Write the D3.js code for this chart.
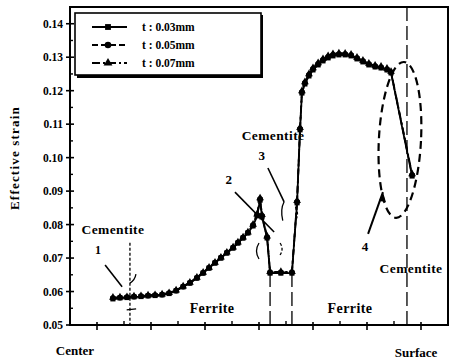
<!DOCTYPE html>
<html>
<head>
<meta charset="utf-8">
<script src="https://cdn.jsdelivr.net/npm/d3@7/dist/d3.min.js"></script>
<style>
  body { margin: 0; background: #fff; }
  text { font-family: "Liberation Serif", "DejaVu Serif", serif; font-weight: bold; fill: #000; }
</style>
</head>
<body>
<div id="chart"></div>
<script>
// position along the section (centre -> surface), arbitrary units
var position = [1.59, 1.85, 2.11, 2.37, 2.63, 2.89, 3.15, 3.41, 3.67, 3.93, 4.19, 4.44, 4.70, 4.93,
  5.15, 5.37, 5.59, 5.81, 6.04, 6.22, 6.41, 6.59, 6.78, 6.93, 7.04, 7.11, 7.30, 7.41, 7.81, 8.22,
  8.41, 8.52, 8.59, 8.70, 8.85, 9.00, 9.19, 9.37, 9.56, 9.74, 9.96, 10.19, 10.41, 10.63, 10.85,
  11.07, 11.30, 11.52, 11.74, 11.89, 12.67];

var strain003 = [0.0578, 0.0581, 0.0582, 0.0584, 0.0585, 0.0587, 0.0588, 0.0590, 0.0594, 0.0602,
  0.0614, 0.0625, 0.0640, 0.0655, 0.0670, 0.0685, 0.0700, 0.0715, 0.0730, 0.0745, 0.0760, 0.0775,
  0.0796, 0.0826, 0.0873, 0.0823, 0.0760, 0.0655, 0.0655, 0.0655, 0.0865, 0.1083, 0.1193, 0.1220,
  0.1244, 0.1262, 0.1277, 0.1289, 0.1298, 0.1304, 0.1307, 0.1307, 0.1304, 0.1295, 0.1286, 0.1277,
  0.1271, 0.1268, 0.1262, 0.1253, 0.0945];
var strain005 = [0.0580, 0.0582, 0.0583, 0.0585, 0.0586, 0.0588, 0.0589, 0.0591, 0.0595, 0.0603,
  0.0615, 0.0626, 0.0641, 0.0656, 0.0671, 0.0686, 0.0701, 0.0716, 0.0731, 0.0746, 0.0761, 0.0776,
  0.0798, 0.0829, 0.0876, 0.0826, 0.0762, 0.0657, 0.0657, 0.0657, 0.0868, 0.1086, 0.1196, 0.1223,
  0.1247, 0.1265, 0.1280, 0.1292, 0.1301, 0.1307, 0.1309, 0.1309, 0.1306, 0.1297, 0.1288, 0.1279,
  0.1273, 0.1270, 0.1264, 0.1255, 0.0948];
var strain007 = [0.0582, 0.0583, 0.0584, 0.0586, 0.0587, 0.0589, 0.0590, 0.0592, 0.0596, 0.0604,
  0.0616, 0.0627, 0.0642, 0.0657, 0.0672, 0.0687, 0.0702, 0.0717, 0.0732, 0.0747, 0.0762, 0.0777,
  0.0800, 0.0831, 0.0879, 0.0829, 0.0765, 0.0659, 0.0659, 0.0659, 0.0871, 0.1089, 0.1199, 0.1226,
  0.1250, 0.1268, 0.1283, 0.1295, 0.1304, 0.1310, 0.1312, 0.1311, 0.1308, 0.1299, 0.1290, 0.1281,
  0.1275, 0.1272, 0.1266, 0.1257, 0.0951];

var seriesNames = ["t :  0.03mm", "t :  0.05mm", "t :  0.07mm"];
var yTickValues = [0.05, 0.06, 0.07, 0.08, 0.09, 0.10, 0.11, 0.12, 0.13, 0.14];
var xMajorTicks = [1, 3, 5, 7, 9, 11, 13];
var xMinorTicks = [2, 4, 6, 8, 10, 12];

var width = 451, height = 363;
var svg = d3.select("#chart").append("svg")
    .attr("width", width).attr("height", height);

var x = d3.scaleLinear().domain([0, 14]).range([70, 448]);
var y = d3.scaleLinear().domain([0.05, 0.145]).range([325, 7]);

// frame
svg.append("rect")
    .attr("x", x(0)).attr("y", y(0.145))
    .attr("width", x(14) - x(0)).attr("height", y(0.05) - y(0.145))
    .attr("fill", "none").attr("stroke", "#000").attr("stroke-width", 2);

// y axis ticks
var yMinor = d3.range(0.055, 0.145, 0.01);
svg.selectAll(".ytick").data(yTickValues).enter().append("line")
    .attr("x1", x(0) - 4).attr("x2", x(0) + 4)
    .attr("y1", function (d) { return y(d); }).attr("y2", function (d) { return y(d); })
    .attr("stroke", "#000").attr("stroke-width", 1.6);
svg.selectAll(".yminor").data(yMinor).enter().append("line")
    .attr("x1", x(0)).attr("x2", x(0) + 3)
    .attr("y1", function (d) { return y(d); }).attr("y2", function (d) { return y(d); })
    .attr("stroke", "#000").attr("stroke-width", 1.4);
svg.selectAll(".ylab").data(yTickValues).enter().append("text")
    .attr("x", x(0) - 7).attr("y", function (d) { return y(d) + 4; })
    .attr("text-anchor", "end").style("font-size", "11.5px")
    .text(function (d) { return d.toFixed(2); });

// x axis ticks
svg.selectAll(".xtick").data(xMajorTicks).enter().append("line")
    .attr("x1", function (d) { return x(d); }).attr("x2", function (d) { return x(d); })
    .attr("y1", y(0.05) - 3).attr("y2", y(0.05) + 5)
    .attr("stroke", "#000").attr("stroke-width", 1.6);
svg.selectAll(".xminor").data(xMinorTicks).enter().append("line")
    .attr("x1", function (d) { return x(d); }).attr("x2", function (d) { return x(d); })
    .attr("y1", y(0.05) - 4).attr("y2", y(0.05))
    .attr("stroke", "#000").attr("stroke-width", 1.4);

// axis titles
svg.append("text")
    .attr("transform", "translate(19,158) rotate(-90)")
    .attr("text-anchor", "middle").style("font-size", "13px").style("letter-spacing", "1.2px")
    .text("Effective strain");
svg.append("text").attr("x", 75).attr("y", 355).attr("text-anchor", "middle")
    .style("font-size", "13px").text("Center");
svg.append("text").attr("x", 416).attr("y", 357).attr("text-anchor", "middle")
    .style("font-size", "13px").text("Surface");

// phase boundaries (dashed)
function vdash(u, v0, v1, dash) {
  svg.append("line")
      .attr("x1", x(u)).attr("x2", x(u)).attr("y1", y(v0)).attr("y2", y(v1))
      .attr("stroke", "#000").attr("stroke-width", 1.3).attr("stroke-dasharray", dash);
}
vdash(2.22, 0.0746, 0.05, "3,2");
vdash(7.41, 0.0655, 0.05, "14,5");
vdash(8.22, 0.0655, 0.05, "14,5");
vdash(12.48, 0.145, 0.05, "14,5");

// data series
var series = [
  { name: seriesNames[0], values: strain003, dash: null, shape: d3.symbolSquare },
  { name: seriesNames[1], values: strain005, dash: "6,3", shape: d3.symbolCircle },
  { name: seriesNames[2], values: strain007, dash: "8,3,2,3", shape: d3.symbolTriangle }
];
var line = d3.line()
    .x(function (d) { return x(d[0]); })
    .y(function (d) { return y(d[1]); });

series.forEach(function (s) {
  var pts = position.map(function (p, i) { return [p, s.values[i]]; });
  svg.append("path").datum(pts)
      .attr("d", line).attr("fill", "none").attr("stroke", "#000")
      .attr("stroke-width", 1.8).attr("stroke-dasharray", s.dash);
  svg.selectAll(null).data(pts).enter().append("path")
      .attr("d", d3.symbol().type(s.shape).size(26))
      .attr("transform", function (d) { return "translate(" + x(d[0]) + "," + y(d[1]) + ")"; })
      .attr("fill", "#000");
});

// annotations
function label(txt, u, v, size) {
  svg.append("text").attr("x", x(u)).attr("y", y(v))
      .attr("text-anchor", "middle").style("font-size", size + "px")
      .style("letter-spacing", "0.4px").text(txt);
}
label("Cementite", 1.59, 0.0772, 13.5);
label("Cementite", 7.52, 0.1053, 13.5);
label("Cementite", 12.63, 0.0655, 13.5);
label("Ferrite", 5.26, 0.0536, 14);
label("Ferrite", 10.37, 0.0536, 14);
label("1", 1.04, 0.0712, 12);
label("2", 5.89, 0.0921, 13);
label("3", 7.11, 0.0993, 13);
label("4", 10.93, 0.0722, 13);

function seg(u0, v0, u1, v1, w) {
  svg.append("line")
      .attr("x1", x(u0)).attr("y1", y(v0)).attr("x2", x(u1)).attr("y2", y(v1))
      .attr("stroke", "#000").attr("stroke-width", w || 1.6);
}
seg(1.30, 0.0679, 1.93, 0.0614);
seg(6.11, 0.0897, 7.56, 0.0778);
seg(7.33, 0.0969, 7.93, 0.0868);
seg(11.04, 0.0772, 11.59, 0.0897, 2);
// arrow head for 4
var ax = x(11.59), ay = y(0.0897);
svg.append("path")
    .attr("d", "M" + ax + "," + ay + " l-4,9 l7,1 z").attr("fill", "#000");

// small brackets around the boundaries
var br = d3.path();
br.moveTo(x(7.93), y(0.0868)); br.quadraticCurveTo(x(7.78), y(0.0845), x(7.88), y(0.0812));
svg.append("path").attr("d", br.toString()).attr("fill", "none").attr("stroke", "#000").attr("stroke-width", 1.3);
svg.append("path")
    .attr("d", "M" + x(8.35) + "," + y(0.0853) + " q4,7 0,14")
    .attr("fill", "none").attr("stroke", "#000").attr("stroke-width", 1.3).attr("stroke-dasharray", "3,2");
svg.append("path")
    .attr("d", "M" + x(7.0) + "," + y(0.0745) + " q-5,8 0,16")
    .attr("fill", "none").attr("stroke", "#000").attr("stroke-width", 1.3);
svg.append("path")
    .attr("d", "M" + x(7.78) + "," + y(0.0745) + " q4,6 0,12")
    .attr("fill", "none").attr("stroke", "#000").attr("stroke-width", 1.3).attr("stroke-dasharray", "3,2");
svg.append("path")
    .attr("d", "M" + x(2.22) + "," + y(0.0625) + " q5,-3 6,-9")
    .attr("fill", "none").attr("stroke", "#000").attr("stroke-width", 1.3);
svg.append("line")
    .attr("x1", x(2.1)).attr("x2", x(2.45)).attr("y1", y(0.0545)).attr("y2", y(0.0548))
    .attr("stroke", "#000").attr("stroke-width", 1.3);

// dashed ellipse 4
var ecx = x(12.22), ecy = y(0.1053);
svg.append("ellipse")
    .attr("cx", ecx).attr("cy", ecy)
    .attr("rx", x(12.22 + 0.78) - ecx).attr("ry", ecy - y(0.1053 + 0.0233))
    .attr("transform", "rotate(3," + ecx + "," + ecy + ")")
    .attr("fill", "none").attr("stroke", "#000").attr("stroke-width", 2.2)
    .attr("stroke-dasharray", "8,5");

// legend
var lg = svg.append("g");
lg.append("rect").attr("x", 77).attr("y", 15).attr("width", 186).attr("height", 63).attr("fill", "#000");
lg.append("rect").attr("x", 75).attr("y", 13).attr("width", 186).attr("height", 62)
    .attr("fill", "#fff").attr("stroke", "#000").attr("stroke-width", 1.6);
series.forEach(function (s, i) {
  var ly = 27 + i * 18;
  lg.append("line").attr("x1", 92).attr("x2", 127).attr("y1", ly).attr("y2", ly)
      .attr("stroke", "#000").attr("stroke-width", 1.8).attr("stroke-dasharray", s.dash);
  lg.append("path").attr("d", d3.symbol().type(s.shape).size(34))
      .attr("transform", "translate(108," + ly + ")").attr("fill", "#000");
  lg.append("text").attr("x", 142).attr("y", ly + 4).style("font-size", "11.5px").text(s.name);
});
</script>
</body>
</html>
